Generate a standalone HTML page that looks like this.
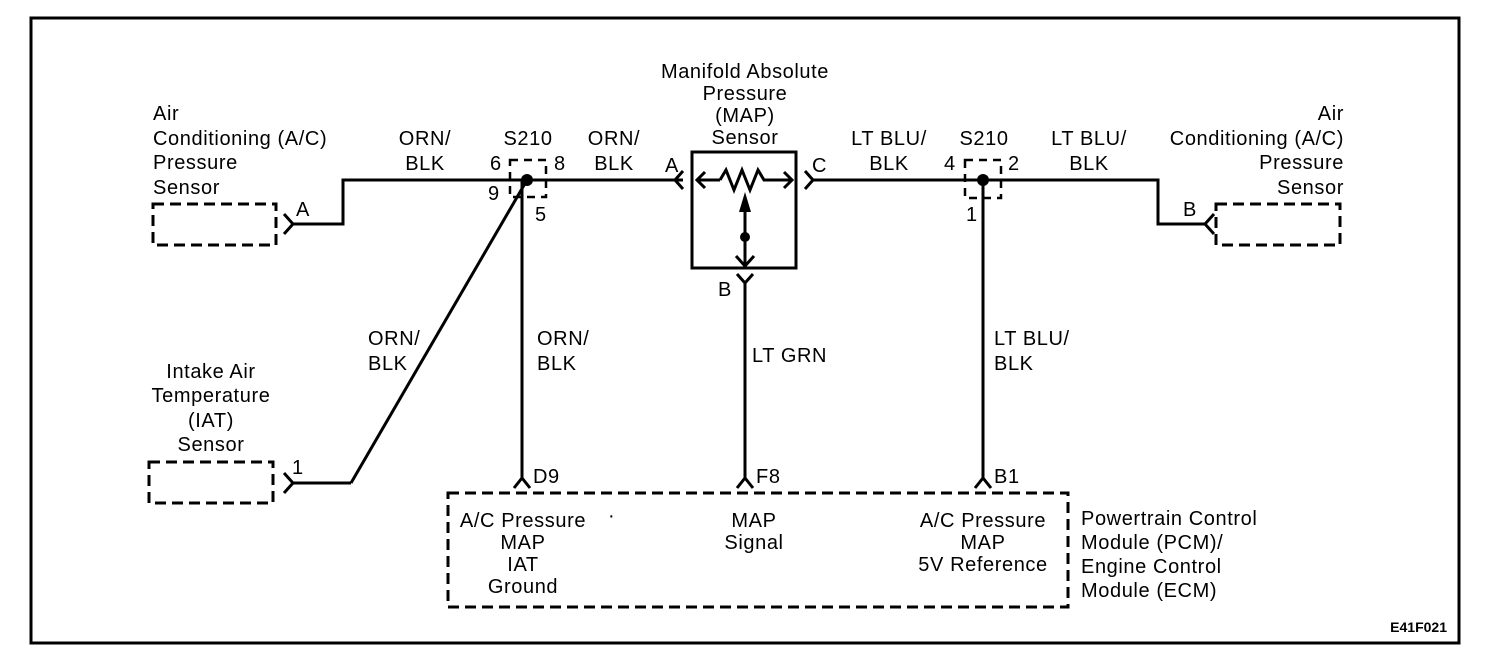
<!DOCTYPE html>
<html><head><meta charset="utf-8"><style>
body{margin:0;background:#fff}
svg{display:block}
text{font-family:"Liberation Sans",Arial,sans-serif;font-size:20px;letter-spacing:0.6px;fill:#000}
</style></head><body>
<svg width="1504" height="668" viewBox="0 0 1504 668">
<rect x="31" y="18" width="1428" height="625" fill="none" stroke="#000" stroke-width="3"/>
<g fill="none" stroke="#000" stroke-width="3">
<rect x="153" y="204" width="123" height="41" stroke-dasharray="11,6"/>
<rect x="149" y="462" width="124" height="41" stroke-dasharray="11,6"/>
<rect x="1216" y="204" width="124" height="41" stroke-dasharray="11,6"/>
<rect x="448" y="493" width="620" height="114" stroke-dasharray="11,6"/>
<rect x="510" y="160" width="36" height="37" stroke-dasharray="8,6" stroke-width="2.5"/>
<rect x="965" y="160" width="36" height="38" stroke-dasharray="8,6" stroke-width="2.5"/>
<polyline points="293,224 343,224 343,180 683,180"/>
<polyline points="284,214 293,224 284,234"/>
<line x1="527" y1="180" x2="351" y2="483"/>
<polyline points="293,483 351,483"/>
<polyline points="284,473 293,483 284,493"/>
<line x1="522" y1="180" x2="522" y2="478"/>
<polyline points="514,488 522,478 530,488"/>
<rect x="692" y="152" width="104" height="116"/>
<polyline points="683,171 675,180 683,189"/>
<polyline points="805,171 813,180 805,189"/>
<line x1="696" y1="180" x2="720" y2="180"/>
<polyline points="705,172 697,180 705,188"/>
<polyline points="720,180 726,170 734,190 742,170 750,190 758,170 764,180 792,180"/>
<polyline points="784,172 792,180 784,188"/>
<line x1="745" y1="210" x2="745" y2="266"/>
<polyline points="736,256 745,266 754,256"/>
<line x1="745" y1="283" x2="745" y2="478"/>
<polyline points="737,274 745,283 753,274"/>
<polyline points="737,488 745,478 753,488"/>
<polyline points="813,180 1158,180 1158,224 1205,224"/>
<polyline points="1214,214 1205,224 1214,234"/>
<line x1="983" y1="180" x2="983" y2="478"/>
<polyline points="975,488 983,478 991,488"/>
</g>
<polygon points="745,192 739,212 751,212" fill="#000"/>
<circle cx="745" cy="237" r="5" fill="#000"/>
<circle cx="527" cy="180" r="6" fill="#000"/>
<circle cx="983" cy="180" r="6" fill="#000"/>
<text x="153" y="120">Air</text>
<text x="153" y="145">Conditioning (A/C)</text>
<text x="153" y="169">Pressure</text>
<text x="153" y="194">Sensor</text>
<text x="296" y="216">A</text>
<text x="425" y="145" text-anchor="middle">ORN/</text>
<text x="425" y="170" text-anchor="middle">BLK</text>
<text x="528" y="145" text-anchor="middle">S210</text>
<text x="490" y="170">6</text>
<text x="554" y="170">8</text>
<text x="488" y="200">9</text>
<text x="535" y="221">5</text>
<text x="614" y="145" text-anchor="middle">ORN/</text>
<text x="614" y="170" text-anchor="middle">BLK</text>
<text x="745" y="78" text-anchor="middle">Manifold Absolute</text>
<text x="745" y="100" text-anchor="middle">Pressure</text>
<text x="745" y="122" text-anchor="middle">(MAP)</text>
<text x="745" y="144" text-anchor="middle">Sensor</text>
<text x="665" y="172">A</text>
<text x="812" y="172">C</text>
<text x="718" y="296">B</text>
<text x="889" y="145" text-anchor="middle">LT BLU/</text>
<text x="889" y="170" text-anchor="middle">BLK</text>
<text x="984" y="145" text-anchor="middle">S210</text>
<text x="944" y="170">4</text>
<text x="1008" y="170">2</text>
<text x="966" y="221">1</text>
<text x="1089" y="145" text-anchor="middle">LT BLU/</text>
<text x="1089" y="170" text-anchor="middle">BLK</text>
<text x="1344" y="120" text-anchor="end">Air</text>
<text x="1344" y="145" text-anchor="end">Conditioning (A/C)</text>
<text x="1344" y="169" text-anchor="end">Pressure</text>
<text x="1344" y="194" text-anchor="end">Sensor</text>
<text x="1183" y="216">B</text>
<text x="368" y="345">ORN/</text>
<text x="368" y="370">BLK</text>
<text x="537" y="345">ORN/</text>
<text x="537" y="370">BLK</text>
<text x="752" y="362">LT GRN</text>
<text x="994" y="345">LT BLU/</text>
<text x="994" y="370">BLK</text>
<text x="211" y="378" text-anchor="middle">Intake Air</text>
<text x="211" y="402" text-anchor="middle">Temperature</text>
<text x="211" y="427" text-anchor="middle">(IAT)</text>
<text x="211" y="451" text-anchor="middle">Sensor</text>
<text x="292" y="474">1</text>
<text x="533" y="483">D9</text>
<text x="756" y="483">F8</text>
<text x="994" y="483">B1</text>
<text x="523" y="527" text-anchor="middle">A/C Pressure</text>
<text x="523" y="549" text-anchor="middle">MAP</text>
<text x="523" y="571" text-anchor="middle">IAT</text>
<text x="523" y="593" text-anchor="middle">Ground</text>
<text x="608" y="522">·</text>
<text x="754" y="527" text-anchor="middle">MAP</text>
<text x="754" y="549" text-anchor="middle">Signal</text>
<text x="983" y="527" text-anchor="middle">A/C Pressure</text>
<text x="983" y="549" text-anchor="middle">MAP</text>
<text x="983" y="571" text-anchor="middle">5V Reference</text>
<text x="1081" y="525">Powertrain Control</text>
<text x="1081" y="549">Module (PCM)/</text>
<text x="1081" y="573">Engine  Control</text>
<text x="1081" y="597">Module (ECM)</text>
<text x="1447" y="632" text-anchor="end" style="font-size:14px;font-weight:bold;letter-spacing:0">E41F021</text>
</svg>
</body></html>
